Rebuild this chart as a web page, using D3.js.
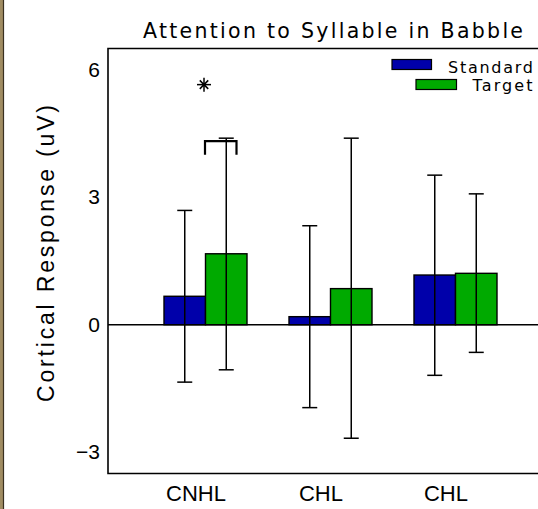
<!DOCTYPE html>
<html><head><meta charset="utf-8">
<script src="https://cdn.jsdelivr.net/npm/d3@7"></script>
<style>html,body{margin:0;padding:0;background:#fff;overflow:hidden}</style>
</head><body>
<script>
const categories = ["CNHL", "CHL", "CHL"];
const seriesNames = ["Standard", "Target"];
const standardMean = [0.67, 0.19, 1.17];
const standardHigh = [2.69, 2.33, 3.52];
const standardLow  = [-1.35, -1.95, -1.19];
const targetMean = [1.67, 0.85, 1.21];
const targetHigh = [4.39, 4.39, 3.08];
const targetLow  = [-1.06, -2.67, -0.65];
const yTicks = [-3, 0, 3, 6];
const title = "Attention to Syllable in Babble";
const yLabel = "Cortical Response (uV)";

(function(){
const W = 538, H = 509;
const colors = {Standard: "#0000aa", Target: "#00aa00"};
const svg = d3.select("body").append("svg").attr("width", W).attr("height", H);

// left border strip
svg.append("rect").attr("x",0).attr("y",0).attr("width",3).attr("height",H).attr("fill","#a08c62");
svg.append("line").attr("x1",3.5).attr("x2",3.5).attr("y1",0).attr("y2",H).attr("stroke","#3a3020").attr("stroke-width",1.2);

const pLeft = 108, pRight = 560, pTop = 48.5, pBottom = 473.5;
const y = d3.scaleLinear().domain([-3.5, 6.5]).range([pBottom, pTop]);
const idx = categories.map((d,i)=>i);
const x = d3.scalePoint().domain(idx).range([205.5, 455.5]);
const xs = d3.scaleBand().domain(seriesNames).range([-41.5, 41.5]).padding(0);

const data = idx.map(i => ({i, vals: [
  {s:"Standard", m: standardMean[i], hi: standardHigh[i], lo: standardLow[i]},
  {s:"Target", m: targetMean[i], hi: targetHigh[i], lo: targetLow[i]}
]}));

// frame
const frame = svg.append("g").attr("stroke","#000").attr("stroke-width",1.6).attr("fill","none");
frame.append("path").attr("d", `M${pRight},${pTop}H${pLeft}V${pBottom}H${pRight}`);

// y tick labels (no tick marks)
const yAxis = d3.axisLeft(y).tickValues(yTicks).tickSize(0).tickPadding(8)
  .tickFormat(d => d < 0 ? "\u2212" + Math.abs(d) : String(d));
const ga = svg.append("g").attr("transform", `translate(${pLeft},0)`).call(yAxis);
ga.select(".domain").remove();
ga.selectAll("text").attr("font-family","'Liberation Sans', Arial, sans-serif").attr("font-size",21).attr("fill","#000");

// bars
const groups = svg.append("g").selectAll("g").data(data).join("g")
  .attr("transform", d => `translate(${x(d.i)},0)`);
groups.selectAll("rect").data(d => d.vals).join("rect")
  .attr("x", d => xs(d.s)).attr("width", xs.bandwidth())
  .attr("y", d => y(Math.max(0, d.m))).attr("height", d => Math.abs(y(d.m) - y(0)))
  .attr("fill", d => colors[d.s]).attr("stroke", "#000").attr("stroke-width", 1.4);

// zero line
svg.append("line").attr("x1", pLeft).attr("x2", pRight).attr("y1", y(0)).attr("y2", y(0))
  .attr("stroke","#000").attr("stroke-width",1.6);

// error bars
const eb = groups.selectAll("g.eb").data(d => d.vals).join("g").attr("class","eb")
  .attr("transform", d => `translate(${xs(d.s) + xs.bandwidth()/2},0)`)
  .attr("stroke","#000").attr("stroke-width",1.5);
eb.append("line").attr("x1",0).attr("x2",0).attr("y1", d => y(d.hi)).attr("y2", d => y(d.lo));
eb.append("line").attr("x1",-7.5).attr("x2",7.5).attr("y1", d => y(d.hi)).attr("y2", d => y(d.hi));
eb.append("line").attr("x1",-7.5).attr("x2",7.5).attr("y1", d => y(d.lo)).attr("y2", d => y(d.lo));

// significance bracket and asterisk over CNHL
const bx0 = x(0) - 0.5, bx1 = x(0) + 31, by = y(4.32);
svg.append("path").attr("d", `M${bx0},${by+13.5}V${by}H${bx1}V${by+13.5}`)
  .attr("fill","none").attr("stroke","#000").attr("stroke-width",2.2);
const ax = x(0) - 1.5, ay = y(5.65);
const ast = svg.append("g").attr("stroke","#000").attr("stroke-width",1.5);
[0, 45, 90, 135].forEach(a => {
  const r = a % 90 === 0 ? 7 : 6, t = a * Math.PI/180;
  ast.append("line").attr("x1", ax - r*Math.cos(t)).attr("x2", ax + r*Math.cos(t))
    .attr("y1", ay - r*Math.sin(t)).attr("y2", ay + r*Math.sin(t));
});
ast.append("circle").attr("cx", ax).attr("cy", ay).attr("r", 1.8).attr("fill","#000").attr("stroke","none");

// x labels
svg.append("g").selectAll("text").data(idx).join("text")
  .attr("x", i => x(i) - 9.5).attr("y", 501)
  .attr("text-anchor","middle").attr("font-family","'Liberation Sans', Arial, sans-serif")
  .attr("font-size",22).text(i => categories[i]);

// y label
svg.append("text").attr("transform","translate(54,253.5) rotate(-90)")
  .attr("text-anchor","middle").attr("font-family","'Liberation Sans', Arial, sans-serif")
  .attr("font-size",23).attr("textLength",297).attr("lengthAdjust","spacing").text(yLabel);

// title
svg.append("text").attr("x",143).attr("y",38).attr("textLength",380).attr("lengthAdjust","spacing")
  .attr("font-family","'DejaVu Sans', sans-serif").attr("font-size",20.5).text(title);

// legend
const leg = [{s:"Standard", sx:392, sy:59.5, sw:39.5, tx:448, ty:72.5, tl:85},
             {s:"Target", sx:416, sy:79.5, sw:40.5, tx:472.5, ty:91, tl:60}];
leg.forEach(l => {
  svg.append("rect").attr("x", l.sx).attr("y", l.sy).attr("width", l.sw).attr("height", 10)
    .attr("fill", colors[l.s]).attr("stroke","#000").attr("stroke-width",1.2);
  svg.append("text").attr("x", l.tx).attr("y", l.ty).attr("textLength", l.tl).attr("lengthAdjust","spacing")
    .attr("font-family","'DejaVu Sans', sans-serif").attr("font-size",16).text(l.s);
});
})();
</script>
</body></html>
